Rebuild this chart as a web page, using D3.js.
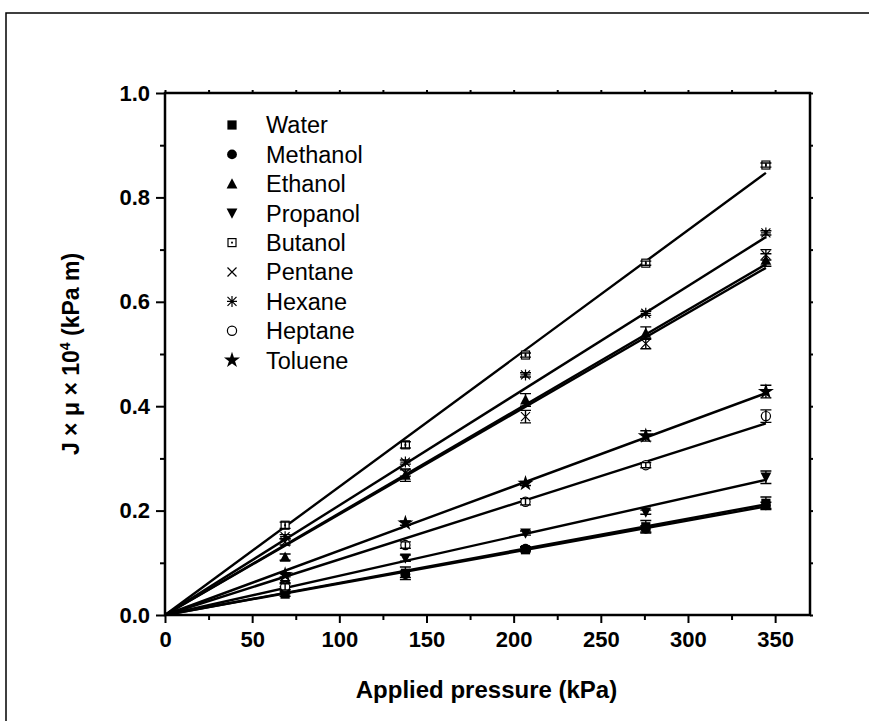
<!DOCTYPE html>
<html><head><meta charset="utf-8">
<script src="https://cdn.jsdelivr.net/npm/d3@7"></script>
<style>body{margin:0;background:#fff}svg{display:block}text{font-family:"Liberation Sans",Arial,sans-serif}</style>
</head><body><svg id="c" width="869" height="721"></svg>
<script>
const pressures = [68.9, 137.9, 206.8, 275.8, 344.7];
const seriesNames = ["Water","Methanol","Ethanol","Propanol","Butanol","Pentane","Hexane","Heptane","Toluene"];
const water    = [0.040, 0.080, 0.125, 0.169, 0.214];
const methanol = [0.045, 0.078, 0.127, 0.165, 0.210];
const ethanol  = [0.111, 0.268, 0.412, 0.540, 0.680];
const propanol = [0.058, 0.109, 0.157, 0.197, 0.264];
const butanol  = [0.172, 0.326, 0.498, 0.674, 0.862];
const pentane  = [0.140, 0.272, 0.380, 0.520, 0.690];
const hexane   = [0.150, 0.293, 0.460, 0.578, 0.732];
const heptane  = [0.054, 0.134, 0.217, 0.287, 0.381];
const toluene  = [0.077, 0.176, 0.252, 0.343, 0.428];
const waterErr    = [0.004, 0.012, 0.004, 0.012, 0.012];
const methanolErr = [0.004, 0.006, 0.004, 0.006, 0.006];
const ethanolErr  = [0.006, 0.012, 0.012, 0.012, 0.012];
const propanolErr = [0.004, 0.006, 0.004, 0.004, 0.012];
const butanolErr  = [0.006, 0.006, 0.004, 0.004, 0.004];
const pentaneErr  = [0.006, 0.006, 0.012, 0.010, 0.010];
const hexaneErr   = [0.004, 0.004, 0.004, 0.004, 0.004];
const heptaneErr  = [0.006, 0.006, 0.006, 0.005, 0.012];
const tolueneErr  = [0.004, 0.004, 0.004, 0.010, 0.012];
// value of each linear fit (through origin) at the last pressure
const fitEnd = [0.212, 0.208, 0.672, 0.259, 0.847, 0.665, 0.724, 0.367, 0.425];
const xTicks = [0, 50, 100, 150, 200, 250, 300, 350];
const yTicks = [0.0, 0.2, 0.4, 0.6, 0.8, 1.0];

const values = [water, methanol, ethanol, propanol, butanol, pentane, hexane, heptane, toluene];
const errs = [waterErr, methanolErr, ethanolErr, propanolErr, butanolErr, pentaneErr, hexaneErr, heptaneErr, tolueneErr];

const svg = d3.select("#c");
const L = 165, R = 810, T = 93, B = 615;
const x = d3.scaleLinear().domain([0, 370]).range([L, R]);
const y = d3.scaleLinear().domain([0, 1]).range([B, T]);

// outer frame
svg.append("path").attr("d", "M6,760V13H869").attr("fill", "none").attr("stroke", "#000").attr("stroke-width", 1.5);

// axes
const fmt = d3.format(".1f");
const gx = svg.append("g").attr("transform", `translate(0,${B})`)
  .call(d3.axisBottom(x).tickValues(xTicks).tickSize(8).tickPadding(8).tickFormat(d3.format("d")));
const gxm = svg.append("g").attr("transform", `translate(0,${B})`)
  .call(d3.axisBottom(x).tickValues(d3.range(25, 370, 50)).tickSize(5).tickFormat(""));
const gy = svg.append("g").attr("transform", `translate(${L},0)`)
  .call(d3.axisLeft(y).tickValues(yTicks).tickSize(9).tickPadding(6).tickFormat(fmt));
const gym = svg.append("g").attr("transform", `translate(${L},0)`)
  .call(d3.axisLeft(y).tickValues(d3.range(0.1, 1, 0.2)).tickSize(5).tickFormat(""));
const gt = svg.append("g").attr("transform", `translate(0,${T})`)
  .call(d3.axisTop(x).tickValues(d3.range(0, 370, 25)).tickSize(3).tickFormat(""));
const gr = svg.append("g").attr("transform", `translate(${R},0)`)
  .call(d3.axisRight(y).tickValues(d3.range(0, 1.01, 0.1)).tickSize(3).tickFormat(""));
[gx, gxm, gy, gym, gt, gr].forEach(g => {
  g.select(".domain").remove();
  g.selectAll("line").attr("stroke", "#000").attr("stroke-width", 2);
  g.selectAll("text").attr("font-size", 22).attr("font-weight", "bold").attr("fill", "#000");
});
svg.append("rect").attr("x", L).attr("y", T).attr("width", R - L).attr("height", B - T)
  .attr("fill", "none").attr("stroke", "#000").attr("stroke-width", 2.5);

// titles
svg.append("text").attr("x", (L + R) / 2 - 1).attr("y", 698).attr("text-anchor", "middle")
  .attr("font-size", 24).attr("font-weight", "bold").text("Applied pressure (kPa)");
const yt = svg.append("text").attr("transform", `translate(79,${(T + B) / 2}) rotate(-90)`)
  .attr("text-anchor", "middle").attr("font-size", 23).attr("font-weight", "bold");
yt.append("tspan").text("J \u00d7 \u03bc \u00d7 10");
yt.append("tspan").attr("dy", -9).attr("font-size", 14).text("4");
yt.append("tspan").attr("dy", 9).text(" (kPa m)");

// fit lines
const plot = svg.append("g");
seriesNames.forEach((n, i) => {
  plot.append("line").attr("x1", x(0)).attr("y1", y(0))
    .attr("x2", x(pressures[4])).attr("y2", y(fitEnd[i]))
    .attr("stroke", "#000").attr("stroke-width", 2.4);
});

// markers
function marker(g, type, cx, cy) {
  const s = 4.6;
  switch (type) {
    case 0: g.append("rect").attr("x", cx - s).attr("y", cy - s).attr("width", 2 * s).attr("height", 2 * s).attr("fill", "#000"); break;
    case 1: g.append("circle").attr("cx", cx).attr("cy", cy).attr("r", s + 0.3).attr("fill", "#000"); break;
    case 2: g.append("path").attr("d", `M${cx},${cy - s - 1}L${cx + s + 0.8},${cy + s}L${cx - s - 0.8},${cy + s}Z`).attr("fill", "#000"); break;
    case 3: g.append("path").attr("d", `M${cx},${cy + s + 1}L${cx + s + 0.8},${cy - s}L${cx - s - 0.8},${cy - s}Z`).attr("fill", "#000"); break;
    case 4: g.append("rect").attr("x", cx - 4).attr("y", cy - 4).attr("width", 8).attr("height", 8).attr("fill", "#fff").attr("stroke", "#000").attr("stroke-width", 1.2);
            g.append("rect").attr("x", cx - 0.9).attr("y", cy - 0.9).attr("width", 1.8).attr("height", 1.8).attr("fill", "#000"); break;
    case 5: g.append("path").attr("d", `M${cx - 4.5},${cy - 4.5}L${cx + 4.5},${cy + 4.5}M${cx - 4.5},${cy + 4.5}L${cx + 4.5},${cy - 4.5}`).attr("stroke", "#000").attr("stroke-width", 1.2); break;
    case 6: g.append("path").attr("d", `M${cx - 4.5},${cy - 4.5}L${cx + 4.5},${cy + 4.5}M${cx - 4.5},${cy + 4.5}L${cx + 4.5},${cy - 4.5}M${cx},${cy - 5.5}L${cx},${cy + 5.5}M${cx - 5},${cy}L${cx + 5},${cy}`).attr("stroke", "#000").attr("stroke-width", 1.2); break;
    case 7: g.append("circle").attr("cx", cx).attr("cy", cy).attr("r", 4.6).attr("fill", "#fff").attr("stroke", "#000").attr("stroke-width", 1.2); break;
    case 8: g.append("path").attr("d", d3.symbol(d3.symbolStar, 80)()).attr("transform", `translate(${cx},${cy})`).attr("fill", "#000"); break;
  }
}
seriesNames.forEach((n, i) => {
  const g = plot.append("g");
  pressures.forEach((p, j) => {
    const cx = x(p), v = values[i][j], e = errs[i][j];
    marker(g, i, cx, y(v));
    g.append("path").attr("d", `M${cx - 5.5},${y(v + e)}H${cx + 5.5}M${cx},${y(v + e)}V${y(v - e)}M${cx - 5.5},${y(v - e)}H${cx + 5.5}`)
      .attr("stroke", "#000").attr("stroke-width", 1.4).attr("fill", "none");
  });
});

// legend
const lg = svg.append("g");
seriesNames.forEach((n, i) => {
  const ly = 125 + i * 29.4;
  marker(lg, i, 232, ly);
  lg.append("text").attr("x", 266).attr("y", ly).attr("dy", "0.36em").attr("font-size", 23.5).text(n);
});
</script></body></html>
